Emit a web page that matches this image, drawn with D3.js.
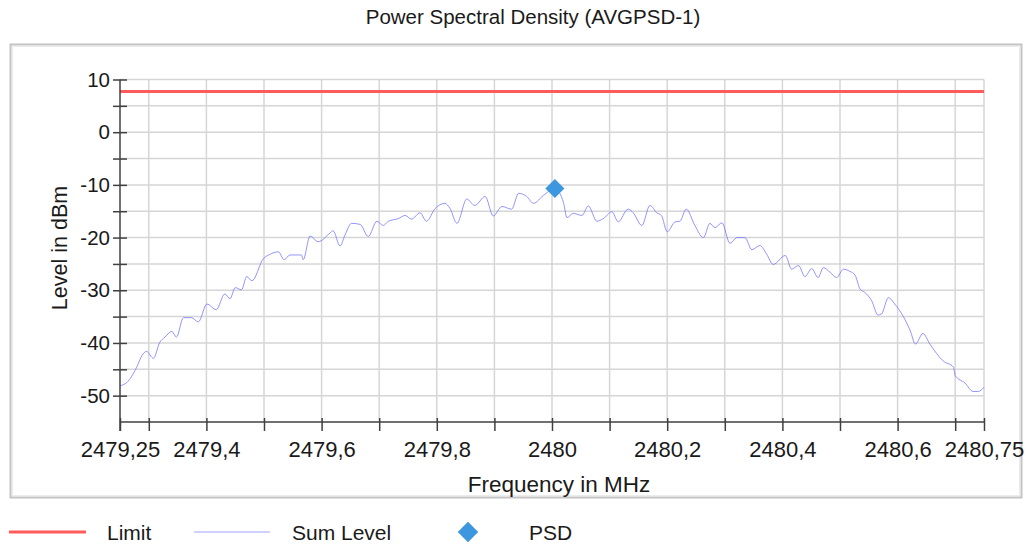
<!DOCTYPE html>
<html>
<head>
<meta charset="utf-8">
<script src="https://cdn.jsdelivr.net/npm/d3@7"></script>
<style>
  body { margin: 0; background: #fff; }
  svg { font-family: "Liberation Sans", Arial, sans-serif; }
  .tick text { fill: #1a1a1a; }
  .axis path, .axis line { stroke: #404040; stroke-width: 1.5px; }
  .grid line { stroke: #d6d6d6; stroke-width: 1.5px; }
</style>
</head>
<body>
<div id="chart"></div>
<script>
// sum level trace
var freqMHz = [
  2479.250, 2479.262, 2479.279, 2479.288, 2479.296, 2479.308, 2479.319, 2479.328, 2479.340, 2479.348,
  2479.360, 2479.374, 2479.386, 2479.401, 2479.417, 2479.432, 2479.441, 2479.450, 2479.461, 2479.470,
  2479.479, 2479.499, 2479.510, 2479.525, 2479.535, 2479.545, 2479.565, 2479.568, 2479.580, 2479.594,
  2479.615, 2479.620, 2479.632, 2479.641, 2479.652, 2479.667, 2479.681, 2479.696, 2479.707, 2479.716,
  2479.733, 2479.745, 2479.756, 2479.771, 2479.782, 2479.797, 2479.814, 2479.823, 2479.835, 2479.852,
  2479.866, 2479.884, 2479.898, 2479.913, 2479.930, 2479.942, 2479.956, 2479.968, 2479.985, 2480.005,
  2480.020, 2480.026, 2480.037, 2480.052, 2480.063, 2480.078, 2480.089, 2480.104, 2480.115, 2480.132,
  2480.141, 2480.156, 2480.170, 2480.182, 2480.190, 2480.200, 2480.214, 2480.222, 2480.233, 2480.248,
  2480.263, 2480.274, 2480.283, 2480.295, 2480.309, 2480.321, 2480.335, 2480.347, 2480.361, 2480.373,
  2480.384, 2480.405, 2480.416, 2480.428, 2480.439, 2480.451, 2480.462, 2480.471, 2480.483, 2480.494,
  2480.506, 2480.517, 2480.526, 2480.535, 2480.543, 2480.555, 2480.566, 2480.572, 2480.584, 2480.595,
  2480.610, 2480.622, 2480.631, 2480.644, 2480.656, 2480.679, 2480.697, 2480.700, 2480.717, 2480.731,
  2480.740, 2480.750
];
var sumLevel = [
  -48.1, -47.5, -44.6, -42.4, -41.6, -42.9, -39.9, -38.9, -37.8, -38.9,
  -35.2, -35.2, -36.0, -32.6, -33.7, -30.7, -31.6, -29.5, -29.9, -27.4,
  -28.2, -24.0, -23.2, -22.7, -24.2, -23.3, -23.3, -24.2, -19.7, -20.8,
  -19.1, -18.7, -21.6, -19.4, -17.3, -17.5, -19.8, -16.9, -17.7, -16.9,
  -16.4, -15.8, -16.5, -15.3, -16.9, -14.5, -13.5, -14.5, -17.3, -12.7,
  -13.9, -12.2, -15.9, -14.1, -14.6, -11.6, -12.2, -13.5, -12.0, -10.7,
  -13.4, -16.2, -15.4, -15.8, -14.0, -16.9, -16.4, -15.1, -17.0, -14.6,
  -15.3, -17.7, -13.9, -15.3, -15.8, -18.9, -17.0, -16.9, -14.6, -17.7,
  -20.0, -17.3, -18.1, -17.2, -21.1, -20.0, -20.0, -22.3, -21.5, -23.2,
  -25.1, -23.4, -26.0, -25.3, -27.4, -25.9, -27.6, -25.7, -26.6, -27.6,
  -26.0, -26.4, -27.1, -29.8, -30.4, -32.0, -34.7, -34.5, -31.4, -32.6,
  -35.0, -37.7, -40.2, -38.2, -40.2, -43.4, -44.6, -46.2, -47.6, -49.2,
  -49.2, -48.4
];
var limitDbm = 7.7;
var psdPoint = [2480.005, -10.7];

var xTicks = [2479.25, 2479.3, 2479.4, 2479.5, 2479.6, 2479.7, 2479.8, 2479.9, 2480,
              2480.1, 2480.2, 2480.3, 2480.4, 2480.5, 2480.6, 2480.7, 2480.75];
var xLabels = [2479.25, 2479.4, 2479.6, 2479.8, 2480, 2480.2, 2480.4, 2480.6, 2480.75];
var yTicks = [10, 5, 0, -5, -10, -15, -20, -25, -30, -35, -40, -45, -50];
var yLabels = [10, 0, -10, -20, -30, -40, -50];

var width = 1035, height = 545;
var svg = d3.select('#chart').append('svg')
  .attr('width', width)
  .attr('height', height);

// outer panel
svg.append('rect')
  .attr('x', 10.5).attr('y', 44.5)
  .attr('width', 1011).attr('height', 453)
  .style('fill', 'none')
  .style('stroke', '#c4c4c4')
  .style('stroke-width', 2);
svg.append('rect')
  .attr('x', 12.5).attr('y', 46.5)
  .attr('width', 1007).attr('height', 449)
  .style('fill', 'none')
  .style('stroke', '#ececec')
  .style('stroke-width', 1);

svg.append('text')
  .attr('x', 533).attr('y', 24)
  .attr('text-anchor', 'middle')
  .style('font-size', '20.5px')
  .style('fill', '#1a1a1a')
  .text('Power Spectral Density (AVGPSD-1)');

var x = d3.scaleLinear().domain([2479.25, 2480.75]).range([120, 984]);
var y = d3.scaleLinear().domain([-55, 10]).range([422, 79.5]);

var fmt = function(d){ return String(+d.toFixed(2)).replace('.', ','); };

// grid
var grid = svg.append('g').attr('class', 'grid');
grid.selectAll('.vx')
  .data(xTicks.slice(1))
  .enter().append('line')
  .attr('x1', function(d){ return x(d); })
  .attr('x2', function(d){ return x(d); })
  .attr('y1', y(10)).attr('y2', y(-55));
grid.selectAll('.hy')
  .data(yTicks)
  .enter().append('line')
  .attr('x1', x(2479.25)).attr('x2', x(2480.75))
  .attr('y1', function(d){ return y(d); })
  .attr('y2', function(d){ return y(d); });

// limit line
svg.append('line')
  .attr('x1', x(2479.25)).attr('x2', x(2480.75))
  .attr('y1', y(limitDbm)).attr('y2', y(limitDbm))
  .style('stroke', '#ff5b5b')
  .style('stroke-width', 3);

// sum level trace
var line = d3.line()
  .x(function(d, i){ return x(freqMHz[i]); })
  .y(function(d){ return y(d); })
  .curve(d3.curveMonotoneX);
svg.append('path')
  .datum(sumLevel)
  .attr('d', line)
  .style('fill', 'none')
  .style('stroke', '#7070ff')
  .style('stroke-opacity', 0.75)
  .style('stroke-width', 1);

// axes
var yAxis = d3.axisLeft(y)
  .tickValues(yTicks)
  .tickSize(7)
  .tickPadding(3)
  .tickFormat(function(d){ return yLabels.indexOf(d) >= 0 ? d : ''; });
var gy = svg.append('g').attr('class', 'axis')
  .attr('transform', 'translate(' + x(2479.25) + ',0)')
  .call(yAxis);
gy.select('.domain').attr('d', 'M0,' + y(10) + 'V' + (y(-55) + 9));
gy.selectAll('.tick line').attr('x1', 7);
gy.selectAll('.tick text').style('font-size', '20.5px');

var xAxis = d3.axisBottom(x)
  .tickValues(xTicks)
  .tickSize(9)
  .tickPadding(10)
  .tickFormat(function(d){ return xLabels.indexOf(d) >= 0 ? fmt(d) : ''; });
var gx = svg.append('g').attr('class', 'axis')
  .attr('transform', 'translate(0,' + y(-55) + ')')
  .call(xAxis);
gx.select('.domain').attr('d', 'M' + x(2479.25) + ',0H' + x(2480.75));
gx.selectAll('.tick line').attr('y1', -4);
gx.selectAll('.tick text').style('font-size', '22px');

svg.append('text')
  .attr('x', 559).attr('y', 492)
  .attr('text-anchor', 'middle')
  .style('font-size', '22.5px')
  .style('fill', '#1a1a1a')
  .text('Frequency in MHz');

svg.append('text')
  .attr('transform', 'translate(67,248) rotate(-90)')
  .attr('text-anchor', 'middle')
  .style('font-size', '21.5px')
  .style('fill', '#1a1a1a')
  .text('Level in dBm');

// PSD marker
svg.append('path')
  .attr('d', d3.symbol().type(d3.symbolDiamond2).size(230))
  .attr('transform', 'translate(' + x(psdPoint[0]) + ',' + y(psdPoint[1]) + ')')
  .style('fill', '#3d97df');

// legend
var legend = svg.append('g').attr('transform', 'translate(0,532)');
legend.append('line').attr('x1', 9).attr('x2', 86)
  .style('stroke', '#ff5b5b').style('stroke-width', 3);
legend.append('text').attr('x', 107).attr('y', 8).text('Limit');
legend.append('line').attr('x1', 194).attr('x2', 270)
  .style('stroke', '#a4a4ff').style('stroke-width', 1.2);
legend.append('text').attr('x', 292).attr('y', 8).text('Sum Level');
legend.append('path')
  .attr('d', d3.symbol().type(d3.symbolDiamond2).size(265))
  .attr('transform', 'translate(468,0)')
  .style('fill', '#3d97df');
legend.append('text').attr('x', 529).attr('y', 8).text('PSD');
legend.selectAll('text').style('fill', '#1a1a1a').style('font-size', '21px');
</script>
</body>
</html>
